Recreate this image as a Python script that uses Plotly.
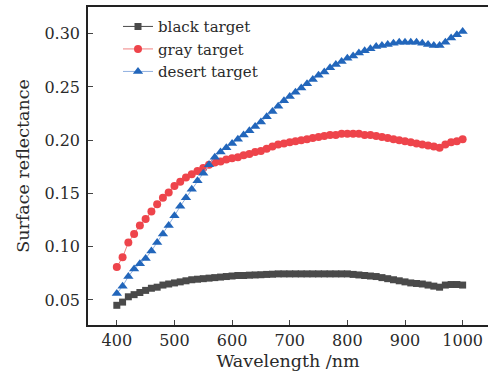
import plotly.graph_objects as go

wavelength = list(range(400, 1001, 10))

black_target = [0.045, 0.048, 0.053, 0.055, 0.057, 0.059, 0.061, 0.062, 0.064, 0.065,
                0.066, 0.067, 0.068, 0.069, 0.0695, 0.070, 0.0705, 0.071, 0.0715, 0.072,
                0.0725, 0.073, 0.073, 0.0733, 0.0735, 0.0737, 0.074, 0.0742, 0.0745, 0.0745,
                0.0745, 0.0745, 0.0745, 0.0745, 0.0745, 0.0745, 0.0745, 0.0745, 0.0745, 0.0745,
                0.0745, 0.074, 0.0735, 0.073, 0.0725, 0.072, 0.071, 0.070, 0.069, 0.068,
                0.067, 0.066, 0.0655, 0.065, 0.064, 0.063, 0.062, 0.064, 0.0645, 0.0645,
                0.064]

gray_target = [0.081, 0.090, 0.104, 0.112, 0.120, 0.126, 0.133, 0.140, 0.146, 0.151,
               0.157, 0.161, 0.165, 0.168, 0.171, 0.174, 0.177, 0.179, 0.180, 0.182,
               0.183, 0.184, 0.186, 0.187, 0.189, 0.190, 0.192, 0.194, 0.196, 0.197,
               0.198, 0.199, 0.200, 0.201, 0.202, 0.203, 0.204, 0.205, 0.205, 0.206,
               0.206, 0.206, 0.206, 0.205, 0.205, 0.204, 0.203, 0.202, 0.201, 0.200,
               0.199, 0.198, 0.197, 0.196, 0.195, 0.194, 0.193, 0.196, 0.198, 0.199,
               0.201]

desert_target = [0.056, 0.063, 0.072, 0.079, 0.084, 0.089, 0.096, 0.104, 0.112, 0.120,
                 0.129, 0.138, 0.146, 0.154, 0.162, 0.169, 0.177, 0.184, 0.189, 0.193,
                 0.197, 0.201, 0.205, 0.209, 0.213, 0.217, 0.222, 0.227, 0.232, 0.237,
                 0.241, 0.245, 0.249, 0.253, 0.257, 0.261, 0.264, 0.268, 0.271, 0.274,
                 0.277, 0.279, 0.282, 0.284, 0.286, 0.288, 0.289, 0.290, 0.291, 0.292,
                 0.292, 0.292, 0.292, 0.291, 0.290, 0.289, 0.289, 0.292, 0.296, 0.299,
                 0.302]

x_ticks = [400, 500, 600, 700, 800, 900, 1000]
y_ticks = [0.05, 0.10, 0.15, 0.20, 0.25, 0.30]
y_tick_labels = ["0.05", "0.10", "0.15", "0.20", "0.25", "0.30"]

FONT = "DejaVu Serif"
fig = go.Figure()
fig.add_trace(go.Scatter(x=wavelength, y=black_target, name="black target", mode="lines+markers",
                         line=dict(color="#4a4a4a", width=1),
                         marker=dict(symbol="square", size=7, color="#4a4a4a")))
fig.add_trace(go.Scatter(x=wavelength, y=gray_target, name="gray target", mode="lines+markers",
                         line=dict(color="#f08080", width=1),
                         marker=dict(symbol="circle", size=8, color="#ee444b")))
fig.add_trace(go.Scatter(x=wavelength, y=desert_target, name="desert target", mode="lines+markers",
                         line=dict(color="#8fb0e0", width=1),
                         marker=dict(symbol="triangle-up", size=9, color="#2266bb")))

fig.update_layout(
    width=488, height=378,
    margin=dict(l=88, r=0, t=7, b=53),
    paper_bgcolor="white", plot_bgcolor="white",
    font=dict(family=FONT, size=16, color="#2a2a2a"),
    showlegend=True,
    legend=dict(x=0.075, y=0.99, xanchor="left", yanchor="top", bgcolor="rgba(0,0,0,0)",
                font=dict(family=FONT, size=15), tracegroupgap=0),
    xaxis=dict(range=[350, 1044], tickvals=x_ticks, ticks="inside", ticklen=5,
               showline=True, linecolor="#222", linewidth=1.5, mirror=True, showgrid=False,
               zeroline=False, automargin=False,
               title=dict(text="Wavelength /nm", standoff=6, font=dict(size=17.5))),
    yaxis=dict(range=[0.0265, 0.3251], tickvals=y_ticks, ticktext=y_tick_labels,
               ticks="inside", ticklen=5, showline=True, linecolor="#222", linewidth=1.5,
               showgrid=False, zeroline=False, automargin=False, ticklabelstandoff=3,
               title=dict(text="Surface reflectance", standoff=10, font=dict(size=17.5))),
)
fig.write_html("out.html", config={"displayModeBar": False},
               post_script="document.body.style.margin='0';document.body.style.overflow='hidden';")
